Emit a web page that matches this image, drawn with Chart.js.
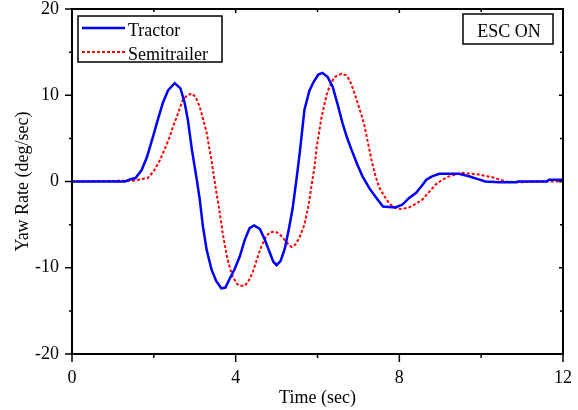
<!DOCTYPE html>
<html>
<head>
<meta charset="utf-8">
<script src="https://cdn.jsdelivr.net/npm/chart.js@4/dist/chart.umd.min.js"></script>
<style>
    html, body { margin: 0; padding: 0; background: #fff; }
    #wrap { width: 578px; height: 410px; }
</style>
</head>
<body>
<div id="wrap"><canvas id="yawChart"></canvas></div>
<script>
// Tractor yaw rate (deg/sec) vs time (sec)
const tractorTime = [0, 1.3, 1.4, 1.55, 1.7, 1.83, 1.98, 2.1, 2.22, 2.35, 2.51, 2.65, 2.75, 2.83, 2.93, 3.05, 3.12, 3.2, 3.29, 3.41, 3.52, 3.65, 3.75, 3.85, 3.97, 4.1, 4.22, 4.34, 4.45, 4.59, 4.7, 4.83, 4.92, 5.0, 5.1, 5.2, 5.3, 5.39, 5.49, 5.57, 5.68, 5.8, 5.9, 6.02, 6.12, 6.25, 6.37, 6.5, 6.61, 6.72, 6.83, 6.97, 7.1, 7.27, 7.44, 7.6, 7.9, 8.07, 8.24, 8.41, 8.55, 8.66, 8.8, 8.98, 9.46, 9.7, 9.9, 10.1, 10.44, 10.85, 10.9, 11.6, 11.66, 12];
const tractorYaw = [0, 0, 0.2, 0.4, 1.3, 2.8, 5.2, 7.2, 9.1, 10.6, 11.4, 10.8, 9.2, 7.2, 3.7, 0.2, -2.0, -5.2, -7.9, -10.2, -11.5, -12.4, -12.3, -11.3, -10.2, -8.7, -6.8, -5.4, -5.1, -5.5, -6.6, -8.2, -9.3, -9.7, -9.2, -7.8, -5.5, -3.2, 0.4, 3.5, 8.3, 10.5, 11.5, 12.4, 12.6, 12.1, 11.0, 8.8, 6.8, 5.1, 3.7, 2.0, 0.6, -0.8, -1.9, -2.9, -3.0, -2.7, -1.9, -1.3, -0.5, 0.2, 0.6, 0.9, 0.9, 0.6, 0.3, 0, -0.1, -0.1, 0, 0, 0.2, 0.2];

// Semitrailer yaw rate (deg/sec) vs time (sec)
const trailerTime = [0, 1.5, 1.85, 2.0, 2.15, 2.27, 2.39, 2.48, 2.56, 2.71, 2.82, 2.93, 3.02, 3.12, 3.2, 3.29, 3.35, 3.41, 3.47, 3.53, 3.61, 3.68, 3.74, 3.8, 3.87, 3.93, 4.02, 4.1, 4.22, 4.32, 4.42, 4.52, 4.63, 4.73, 4.83, 4.95, 5.05, 5.15, 5.27, 5.37, 5.46, 5.56, 5.68, 5.78, 5.85, 5.93, 5.98, 6.1, 6.24, 6.41, 6.59, 6.7, 6.78, 6.88, 6.98, 7.07, 7.15, 7.22, 7.32, 7.42, 7.51, 7.62, 7.76, 7.93, 8.05, 8.24, 8.4, 8.56, 8.73, 8.9, 9.05, 9.22, 9.54, 9.95, 10.27, 10.6, 10.93, 11.34, 12];
const trailerYaw = [0, 0.1, 0.4, 1.2, 2.5, 3.8, 5.2, 6.5, 7.5, 9.5, 10.0, 10.2, 9.8, 8.7, 7.3, 5.7, 4.0, 2.5, 0.5, -1.3, -3.6, -5.9, -7.5, -9.0, -10.2, -11.0, -11.8, -12.1, -12.1, -11.5, -10.5, -9.0, -7.5, -6.5, -5.9, -5.8, -6.0, -6.5, -7.2, -7.6, -7.3, -6.5, -5.0, -2.8, -0.6, 1.8, 4.0, 7.5, 10.4, 12.1, 12.5, 12.3, 11.8, 10.6, 9.1, 7.8, 6.4, 4.8, 2.5, 0.6, -0.7, -1.6, -2.6, -3.1, -3.2, -3.0, -2.6, -2.1, -1.2, -0.3, 0.2, 0.6, 1.0, 0.8, 0.5, 0, -0.1, 0, 0];

const xMajor = [0, 4, 8, 12];
const xMinor = [2, 6, 10];
const yMajor = [-20, -10, 0, 10, 20];
const yMinor = [-15, -5, 5, 15];

const serif = 'Liberation Serif, Times New Roman, serif';

function toPoints(xs, ys) {
    return xs.map((x, i) => ({ x, y: ys[i] }));
}

// frame, inward/outward ticks, legend and the ESC ON box
const framePlugin = {
    id: 'frame',
    afterDatasetsDraw(chart) {
        const { ctx, chartArea: a, scales: { x, y } } = chart;
        ctx.save();
        ctx.strokeStyle = '#000';
        ctx.lineWidth = 2;
        ctx.strokeRect(a.left, a.top, a.right - a.left, a.bottom - a.top);

        ctx.lineWidth = 1.5;
        ctx.beginPath();
        const xt = (list, out, inn) => list.forEach(v => {
            const px = x.getPixelForValue(v);
            ctx.moveTo(px, a.bottom); ctx.lineTo(px, a.bottom + out);
            ctx.moveTo(px, a.top); ctx.lineTo(px, a.top + inn);
        });
        const yt = (list, out, inn) => list.forEach(v => {
            const py = y.getPixelForValue(v);
            ctx.moveTo(a.left, py); ctx.lineTo(a.left - out, py);
            ctx.moveTo(a.right, py); ctx.lineTo(a.right - inn, py);
        });
        xt(xMajor, 8, 4);
        xt(xMinor, 4, 3);
        yt(yMajor, 7, 4);
        yt(yMinor, 3, 3);
        ctx.stroke();

        // legend
        const ds = chart.data.datasets;
        ctx.fillStyle = '#fff';
        ctx.fillRect(78, 16, 144, 46);
        ctx.lineWidth = 1.5;
        ctx.strokeRect(78, 16, 144, 46);
        ctx.font = '18px ' + serif;
        ctx.textBaseline = 'middle';
        ctx.textAlign = 'left';
        const rows = [28, 52];
        ds.forEach((d, i) => {
            ctx.beginPath();
            ctx.strokeStyle = d.borderColor;
            ctx.lineWidth = d.borderWidth;
            ctx.setLineDash(d.borderDash || []);
            ctx.moveTo(82, rows[i]);
            ctx.lineTo(125, rows[i]);
            ctx.stroke();
            ctx.setLineDash([]);
            ctx.fillStyle = '#000';
            ctx.fillText(d.label, 128, rows[i] + 3);
        });

        // ESC ON box
        ctx.strokeStyle = '#000';
        ctx.lineWidth = 1.5;
        ctx.strokeRect(463, 14, 90, 30);
        ctx.textAlign = 'center';
        ctx.fillText('ESC ON', 509, 32);
        ctx.restore();
    }
};

new Chart(document.getElementById('yawChart'), {
    type: 'line',
    data: {
        datasets: [
            {
                label: 'Tractor',
                data: toPoints(tractorTime, tractorYaw),
                borderColor: '#0000ff',
                borderWidth: 2.5,
                pointRadius: 0,
                tension: 0
            },
            {
                label: 'Semitrailer',
                data: toPoints(trailerTime, trailerYaw),
                borderColor: '#ff0000',
                borderWidth: 2,
                borderDash: [3, 2],
                pointRadius: 0,
                tension: 0
            }
        ]
    },
    options: {
        responsive: true,
        maintainAspectRatio: false,
        animation: false,
        layout: { padding: { top: 9, right: 15, left: 0, bottom: 0 } },
        plugins: { legend: { display: false }, tooltip: { enabled: false } },
        scales: {
            x: {
                type: 'linear',
                min: 0, max: 12,
                afterFit: s => { s.height = 56; s.paddingLeft = 0; s.paddingRight = 0; },
                afterBuildTicks: s => { s.ticks = xMajor.map(v => ({ value: v })); },
                grid: { display: false, drawTicks: false },
                border: { display: false },
                ticks: { color: '#000', padding: 13, maxRotation: 0, font: { family: serif, size: 18 } },
                title: { display: true, text: 'Time (sec)', color: '#000', padding: { top: 0, bottom: 1 }, font: { family: serif, size: 18 } }
            },
            y: {
                min: -20, max: 20,
                afterFit: s => { s.width = 72; s.paddingTop = 0; s.paddingBottom = 0; },
                afterBuildTicks: s => { s.ticks = yMajor.map(v => ({ value: v })); },
                grid: { display: false, drawTicks: false },
                border: { display: false },
                ticks: { color: '#000', padding: 13, font: { family: serif, size: 18 } },
                title: { display: true, text: 'Yaw Rate (deg/sec)', color: '#000', padding: { top: 12, bottom: 0 }, font: { family: serif, size: 18 } }
            }
        }
    },
    plugins: [framePlugin]
});
</script>
</body>
</html>
